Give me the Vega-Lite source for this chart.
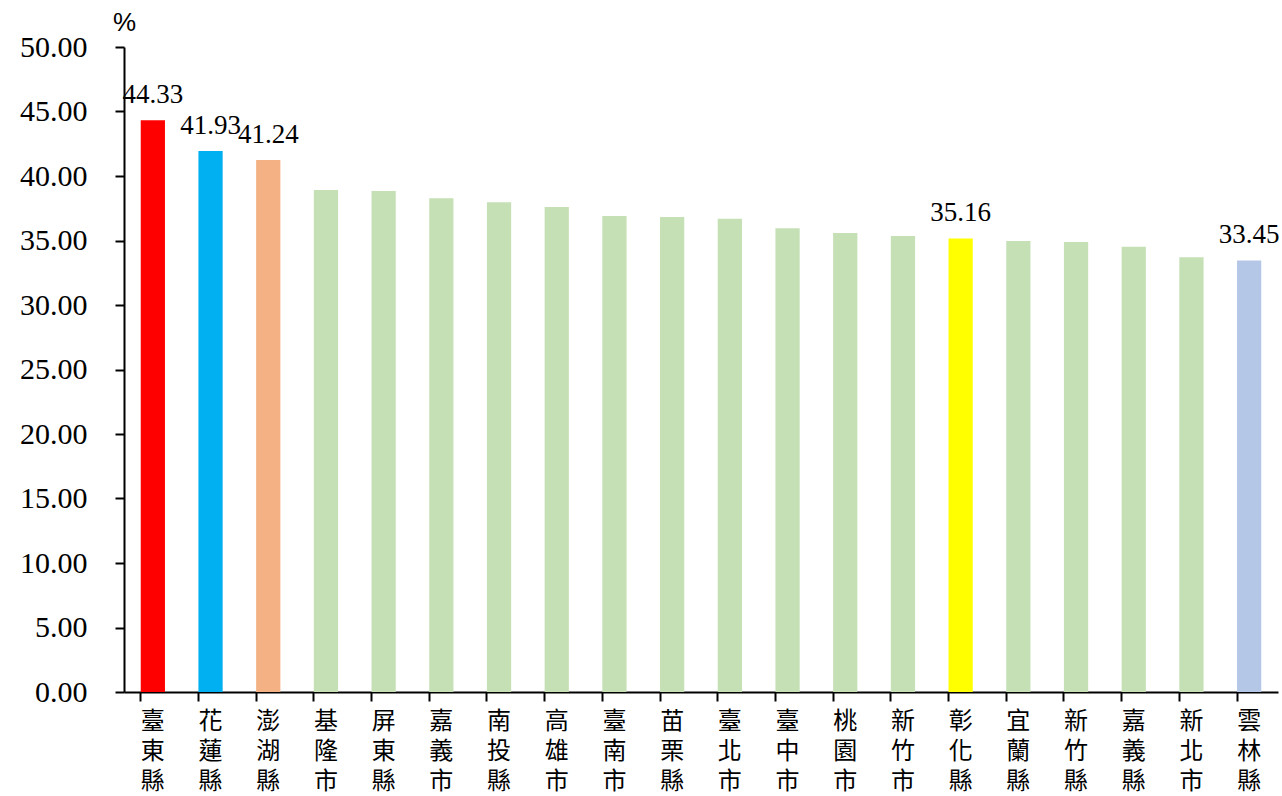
{
  "$schema": "https://vega.github.io/schema/vega-lite/v6.json",
  "autosize": "none",
  "width": 1154,
  "height": 645,
  "padding": {"left": 124, "top": 47, "right": 4, "bottom": 104},
  "background": "white",
  "config": {"view": {"stroke": null}},
  "data": {
    "values": [
      {"county": "臺東縣", "value": 44.33},
      {"county": "花蓮縣", "value": 41.93},
      {"county": "澎湖縣", "value": 41.24},
      {"county": "基隆市", "value": 38.91},
      {"county": "屏東縣", "value": 38.84},
      {"county": "嘉義市", "value": 38.27},
      {"county": "南投縣", "value": 37.96},
      {"county": "高雄市", "value": 37.6},
      {"county": "臺南市", "value": 36.9},
      {"county": "苗栗縣", "value": 36.82},
      {"county": "臺北市", "value": 36.69},
      {"county": "臺中市", "value": 35.95},
      {"county": "桃園市", "value": 35.58},
      {"county": "新竹市", "value": 35.35},
      {"county": "彰化縣", "value": 35.16},
      {"county": "宜蘭縣", "value": 34.96},
      {"county": "新竹縣", "value": 34.88},
      {"county": "嘉義縣", "value": 34.52},
      {"county": "新北市", "value": 33.7},
      {"county": "雲林縣", "value": 33.45}
    ]
  },
  "encoding": {
    "x": {
      "field": "county",
      "type": "nominal",
      "sort": null,
      "scale": {"paddingInner": 0.58, "paddingOuter": 0.29},
      "axis": {
        "title": null,
        "labelAngle": 0,
        "labelExpr": "split(datum.label, '')",
        "labelFont": "Noto Sans CJK TC",
        "labelFontSize": 24,
        "labelLineHeight": 30,
        "labelColor": "black",
        "labelPadding": 8,
        "labelBaseline": "top",
        "bandPosition": 0,
        "tickSize": 9,
        "tickWidth": 2,
        "tickColor": "black",
        "domainColor": "black",
        "domainWidth": 2
      }
    },
    "y": {
      "field": "value",
      "type": "quantitative",
      "scale": {"domain": [0, 50]},
      "axis": {
        "values": [0, 5, 10, 15, 20, 25, 30, 35, 40, 45, 50],
        "format": ".2f",
        "grid": false,
        "title": "%",
        "titleAngle": 0,
        "titleX": 0,
        "titleY": -12,
        "titleAlign": "center",
        "titleBaseline": "bottom",
        "titleFont": "Liberation Sans",
        "titleFontSize": 26,
        "titleFontWeight": "normal",
        "labelFont": "Liberation Serif",
        "labelFontSize": 30,
        "labelColor": "black",
        "labelPadding": 28,
        "tickSize": 9,
        "tickWidth": 2,
        "tickColor": "black",
        "domainColor": "black",
        "domainWidth": 2
      }
    }
  },
  "layer": [
    {
      "mark": {"type": "bar"},
      "encoding": {
        "color": {
          "field": "county",
          "type": "nominal",
          "legend": null,
          "scale": {
            "domain": ["臺東縣", "花蓮縣", "澎湖縣", "基隆市", "屏東縣", "嘉義市", "南投縣", "高雄市", "臺南市", "苗栗縣", "臺北市", "臺中市", "桃園市", "新竹市", "彰化縣", "宜蘭縣", "新竹縣", "嘉義縣", "新北市", "雲林縣"],
            "range": ["#FF0000", "#00B0F0", "#F4B183", "#C5E0B4", "#C5E0B4", "#C5E0B4", "#C5E0B4", "#C5E0B4", "#C5E0B4", "#C5E0B4", "#C5E0B4", "#C5E0B4", "#C5E0B4", "#C5E0B4", "#FFFF00", "#C5E0B4", "#C5E0B4", "#C5E0B4", "#C5E0B4", "#B4C7E7"]
          }
        }
      }
    },
    {
      "transform": [
        {"filter": {"field": "county", "oneOf": ["臺東縣", "花蓮縣", "澎湖縣", "彰化縣", "雲林縣"]}}
      ],
      "mark": {
        "type": "text",
        "font": "Liberation Serif",
        "fontSize": 27,
        "baseline": "alphabetic",
        "dy": -17,
        "color": "black"
      },
      "encoding": {
        "text": {"field": "value", "type": "quantitative", "format": ".2f"}
      }
    }
  ]
}
